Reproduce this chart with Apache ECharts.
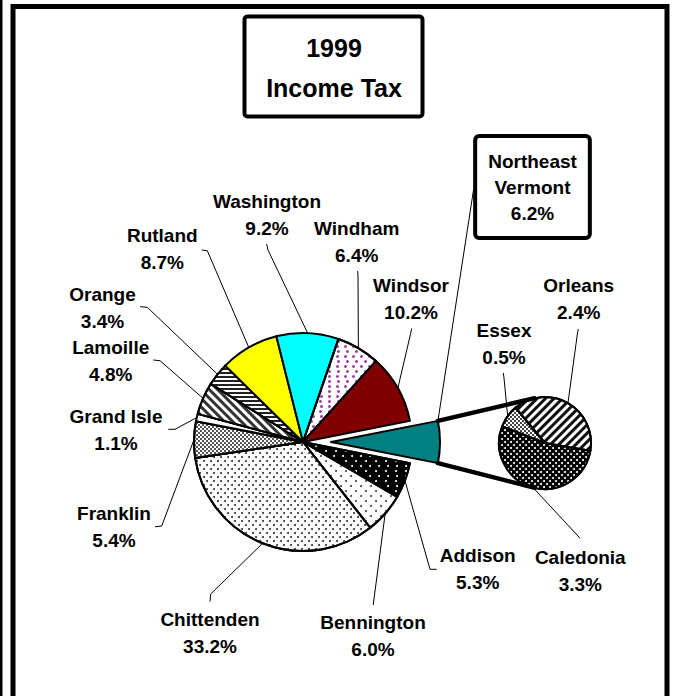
<!DOCTYPE html>
<html>
<head>
<meta charset="utf-8">
<script src="https://cdn.jsdelivr.net/npm/echarts@6/dist/echarts.min.js"></script>
<style>
  html, body { margin: 0; padding: 0; background: #fff; }
  #chart { width: 674px; height: 696px; }
</style>
</head>
<body>
<div id="chart"></div>
<script>
// data, main pie: first slice is the aggregated one that gets split out
const counties = ['Northeast Vermont', 'Addison', 'Bennington', 'Chittenden', 'Franklin', 'Grand Isle',
  'Lamoille', 'Orange', 'Rutland', 'Washington', 'Windham', 'Windsor'];
const countyShares = [6.2, 5.3, 6.0, 33.2, 5.4, 1.1, 4.8, 3.4, 8.7, 9.2, 6.4, 10.2];
// data, secondary pie (breakdown of Northeast Vermont)
const neCounties = ['Caledonia', 'Essex', 'Orleans'];
const neShares = [3.3, 0.5, 2.4];
const titleLines = ['1999', 'Income Tax'];

const FONT = "'Liberation Sans', Arial, Helvetica, sans-serif";
const MAIN = { cx: 303, cy: 442, r: 109, explode: 28 };
const SMALL = { cx: 545, cy: 443, r: 46, start: 350.4 };
const HIDDEN = 'rgba(0,0,0,0)';

// fill patterns
function dots(color, step, size) {
  return {
    symbol: 'circle', symbolSize: 1, color: color,
    dashArrayX: [[size, step - size], [0, step / 2, size, step / 2 - size]],
    dashArrayY: [size, step / 2 - size]
  };
}
function stripes(color, width, gap, rotation) {
  return {
    symbol: 'rect', symbolSize: 1, symbolKeepAspect: false, color: color,
    dashArrayX: [1, 0], dashArrayY: [width, gap], rotation: rotation
  };
}
function checker(color, size) {
  return {
    symbol: 'rect', symbolSize: 1, color: color,
    dashArrayX: [[size, size], [0, size, size, 0]], dashArrayY: [size, 0]
  };
}

const sliceStyle = {
  'Northeast Vermont': { color: '#008080' },
  'Addison': { color: '#000', decal: dots('#fff', 9, 2) },
  'Bennington': { color: '#fff', decal: dots('#444', 10, 2) },
  'Chittenden': { color: '#fff', decal: dots('#333', 6, 1.6) },
  'Franklin': { color: '#fff', decal: checker('#555', 2) },
  'Grand Isle': { color: '#fff' },
  'Lamoille': { color: '#fff', decal: stripes('#333', 2.5, 3, Math.PI / 4) },
  'Orange': { color: '#fff', decal: stripes('#222', 1.5, 1.5, 0) },
  'Rutland': { color: '#ffff00' },
  'Washington': { color: '#00ffff' },
  'Windham': { color: '#fff', decal: dots('#a040a0', 7, 2.4) },
  'Windsor': { color: '#800000' },
  'Caledonia': { color: '#000', decal: dots('#fff', 6, 2) },
  'Essex': { color: '#fff', decal: checker('#444', 2) },
  'Orleans': { color: '#fff', decal: stripes('#111', 3, 3, -Math.PI / 4) }
};

// where each label sits, plus the leader line end (at label) and its knee
const labelSpots = {
  'Northeast Vermont': { x: 532.5, y: 187, knee: [473.5, 190], end: [477, 188] },
  'Washington': { x: 267, y: 214.5, knee: [268, 250], end: [266.7, 244] },
  'Windham': { x: 356.7, y: 242, knee: [358, 276], end: [357.7, 271] },
  'Rutland': { x: 162.3, y: 249.3, knee: [207.3, 250.7], end: [201.7, 250] },
  'Windsor': { x: 411, y: 299.3, knee: [410.7, 333.3], end: [411.7, 328.5] },
  'Orange': { x: 102.5, y: 307.5, knee: [147.3, 307.3], end: [140, 306.7] },
  'Lamoille': { x: 110.7, y: 360.5, knee: [160, 360.7], end: [153.3, 360] },
  'Grand Isle': { x: 116, y: 430, knee: [175, 429.3], end: [168.3, 429.3] },
  'Franklin': { x: 114, y: 526.7, knee: [161.7, 526], end: [155, 526.7] },
  'Chittenden': { x: 210, y: 632.5, knee: [210.7, 594], end: [210, 601.7] },
  'Bennington': { x: 373, y: 636, knee: [373.6, 602], end: [373.3, 605] },
  'Addison': { x: 477.7, y: 569.3, knee: [430, 569.3], end: [436.7, 569.3] },
  'Essex': { x: 504, y: 343.7, knee: [504, 378], end: [503.3, 373] },
  'Orleans': { x: 578.7, y: 299.3, knee: [577.5, 333], end: [578.3, 329] },
  'Caledonia': { x: 580.3, y: 570.7, knee: [578, 536], end: [580, 538.3] }
};

const total = countyShares.reduce((a, b) => a + b, 0);
const restOfState = total - countyShares[0];
const halfRad = countyShares[0] / total * Math.PI;
const mainStart = halfRad * 180 / Math.PI;

// corners of the pulled-out slice and tangent points on the small pie
const cornerX = MAIN.cx + MAIN.explode + MAIN.r * Math.cos(halfRad);
const cornerDY = MAIN.r * Math.sin(halfRad);
const tangent = 103 * Math.PI / 180;
const smallX = SMALL.cx + SMALL.r * Math.cos(tangent);
const smallDY = SMALL.r * Math.sin(tangent);

function pct(v) { return v.toFixed(1) + '%'; }

function placeLabel(names, params) {
  const name = names[params.dataIndex];
  const spot = labelSpots[name];
  if (!spot) return {};
  let start = params.labelLinePoints ? params.labelLinePoints[0] : spot.knee;
  if (name === 'Northeast Vermont') start = [cornerX, MAIN.cy - cornerDY];
  return {
    x: spot.x, y: spot.y, align: 'center', verticalAlign: 'middle',
    labelLinePoints: [start, spot.knee, spot.end]
  };
}

const labelText = {
  show: true, position: 'outside', color: '#000', fontFamily: FONT,
  fontSize: 19, fontWeight: 'bold', lineHeight: 27, align: 'center',
  formatter: p => p.name + '\n' + pct(p.value)
};
const leader = { show: true, lineStyle: { color: '#000', width: 1 } };
const edge = { borderColor: '#000', borderWidth: 2 };
const noLabel = { label: { show: false }, labelLine: { show: false } };

function hiddenItem(name, value) {
  return Object.assign({ name: name, value: value, itemStyle: { color: HIDDEN, borderWidth: 0 } }, noLabel);
}

const chart = echarts.init(document.getElementById('chart'), null, { renderer: 'svg' });

chart.setOption({
  backgroundColor: '#fff',
  animation: false,
  graphic: [
    { type: 'rect', z: 0, shape: { x: 0, y: 0, width: 2.5, height: 696 }, style: { fill: '#000' } },
    { type: 'rect', z: 0, shape: { x: 13, y: 6.5, width: 654, height: 720 },
      style: { fill: 'none', stroke: '#000', lineWidth: 5 } },
    { type: 'rect', z: 0, shape: { x: 244.5, y: 16.5, width: 178, height: 100, r: 3 },
      style: { fill: '#fff', stroke: '#000', lineWidth: 4 } },
    { type: 'text', z: 1, x: 334, y: 48, style: { text: titleLines[0], fill: '#000', font: 'bold 25px ' + FONT,
      textAlign: 'center', textVerticalAlign: 'middle' } },
    { type: 'text', z: 1, x: 334, y: 88, style: { text: titleLines[1], fill: '#000', font: 'bold 25px ' + FONT,
      textAlign: 'center', textVerticalAlign: 'middle' } },
    { type: 'line', z: 100, shape: { x1: cornerX, y1: MAIN.cy - cornerDY, x2: smallX, y2: SMALL.cy - smallDY },
      style: { stroke: '#000', lineWidth: 4.5, lineCap: 'round' } },
    { type: 'line', z: 100, shape: { x1: cornerX, y1: MAIN.cy + cornerDY, x2: smallX, y2: SMALL.cy + smallDY },
      style: { stroke: '#000', lineWidth: 4.5, lineCap: 'round' } }
  ],
  series: [
    {
      // main pie, with the Northeast Vermont slot left empty
      type: 'pie',
      center: [MAIN.cx, MAIN.cy],
      radius: MAIN.r,
      startAngle: mainStart,
      clockwise: true,
      avoidLabelOverlap: false,
      silent: true,
      emphasis: { disabled: true },
      itemStyle: edge,
      label: labelText,
      labelLine: leader,
      labelLayout: params => placeLabel(counties, params),
      data: counties.map((n, i) => i === 0
        ? hiddenItem(n, countyShares[i])
        : { name: n, value: countyShares[i], itemStyle: Object.assign({}, sliceStyle[n]) })
    },
    {
      // the pulled-out Northeast Vermont slice
      type: 'pie',
      center: [MAIN.cx + MAIN.explode, MAIN.cy],
      radius: MAIN.r,
      startAngle: mainStart,
      clockwise: true,
      avoidLabelOverlap: false,
      silent: true,
      emphasis: { disabled: true },
      itemStyle: edge,
      labelLine: leader,
      labelLayout: params => placeLabel([counties[0]], params),
      data: [
        {
          name: counties[0], value: countyShares[0], itemStyle: Object.assign({}, sliceStyle[counties[0]]),
          label: Object.assign({}, labelText, {
            formatter: p => p.name.replace(' ', '\n') + '\n' + pct(p.value),
            lineHeight: 26, backgroundColor: '#fff', borderColor: '#000', borderWidth: 4,
            borderRadius: 2, padding: [11, 11, 9, 11]
          })
        },
        hiddenItem('', restOfState)
      ]
    },
    {
      type: 'pie',
      center: [SMALL.cx, SMALL.cy],
      radius: SMALL.r,
      startAngle: SMALL.start,
      clockwise: true,
      avoidLabelOverlap: false,
      silent: true,
      emphasis: { disabled: true },
      itemStyle: edge,
      label: labelText,
      labelLine: leader,
      labelLayout: params => placeLabel(neCounties, params),
      data: neCounties.map((n, i) => ({ name: n, value: neShares[i], itemStyle: Object.assign({}, sliceStyle[n]) }))
    }
  ]
});
</script>
</body>
</html>
